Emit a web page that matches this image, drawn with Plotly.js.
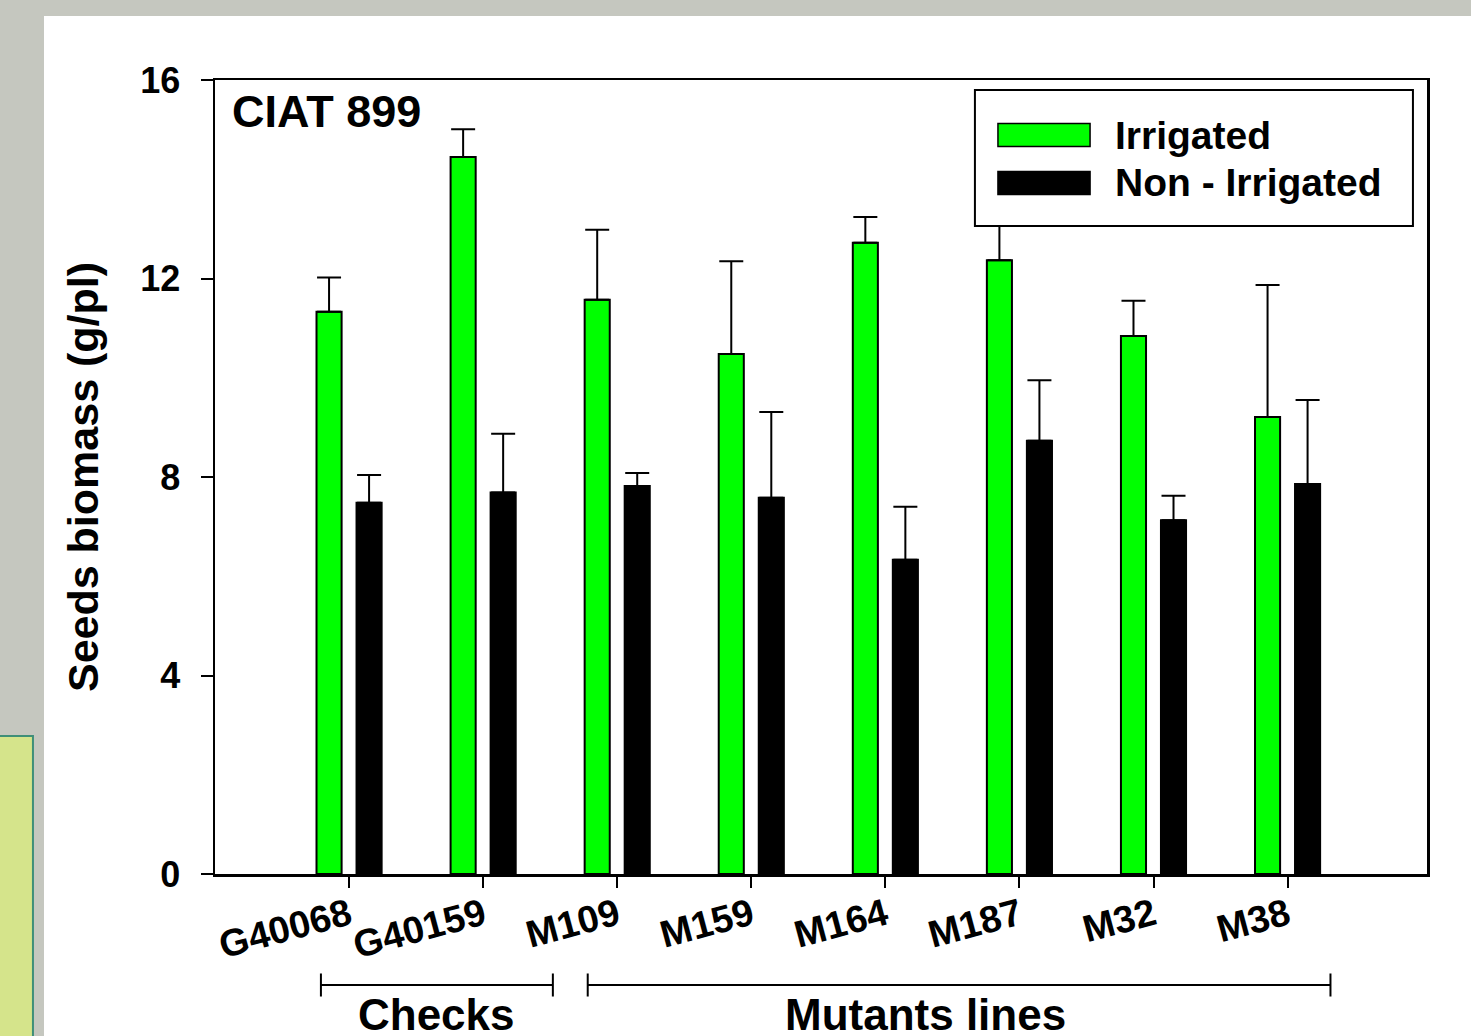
<!DOCTYPE html>
<html>
<head>
<meta charset="utf-8">
<script src="https://cdn.plot.ly/plotly-3.0.1.min.js"></script>
<style>
html,body{margin:0;padding:0;background:#c5c7bf;}
#chart{width:1471px;height:1036px;}
</style>
</head>
<body>
<div id="chart"></div>
<script>
// ---- data ----
const categories = ["G40068","G40159","M109","M159","M164","M187","M32","M38"];
const seriesNames = ["Irrigated","Non - Irrigated"];
const irrigated = [11.33, 14.45, 11.57, 10.48, 12.72, 12.37, 10.84, 9.21];
const irrigatedErr = [0.69, 0.56, 1.41, 1.87, 0.52, 0.78, 0.71, 2.66];
const nonIrrigated = [7.48, 7.69, 7.82, 7.58, 6.33, 8.73, 7.13, 7.86];
const nonIrrigatedErr = [0.56, 1.18, 0.26, 1.73, 1.07, 1.22, 0.49, 1.69];
const yTicks = [0, 4, 8, 12, 16];
const panelLabel = "CIAT 899";
const yTitle = "Seeds biomass (g/pl)";
const groups = [
  {label: "Checks", from: -0.21, to: 1.52, labelAt: 0.65},
  {label: "Mutants lines", from: 1.78, to: 7.32, labelAt: 4.30}
];

const FONT = "Liberation Sans, Arial, Helvetica, sans-serif";
const zeros = categories.map(() => 0);

const traces = [
  {
    type: "bar", name: seriesNames[0], x: categories.map((c,i)=>i), y: irrigated,
    marker: {color: "#00ff00", line: {color: "#000000", width: 2}},
    error_y: {type: "data", symmetric: false, array: irrigatedErr, arrayminus: zeros,
              color: "#000000", thickness: 2, width: 12},
    showlegend: false, hoverinfo: "skip"
  },
  {
    type: "bar", name: seriesNames[1], x: categories.map((c,i)=>i), y: nonIrrigated,
    marker: {color: "#000000", line: {color: "#000000", width: 2}},
    error_y: {type: "data", symmetric: false, array: nonIrrigatedErr, arrayminus: zeros,
              color: "#000000", thickness: 2, width: 12},
    showlegend: false, hoverinfo: "skip"
  }
];

const shapes = [];
const annotations = [];

// page panels (background decoration)
shapes.push({type:"rect", xref:"paper", yref:"paper", x0:-0.1411, x1:1.04, y0:-0.21, y1:1.0806,
  fillcolor:"#ffffff", line:{width:0}, layer:"below"});
shapes.push({type:"rect", xref:"paper", yref:"paper", x0:-0.18, x1:-0.1502, y0:-0.21, y1:0.1738,
  fillcolor:"#d5e48b", line:{color:"#3f8f78", width:2}, layer:"below"});

// group brackets
const by = -0.1398, bt = 0.0145;
groups.forEach(g => {
  shapes.push({type:"line", xref:"x", yref:"paper", x0:g.from, x1:g.to, y0:by, y1:by, line:{color:"#000", width:2}});
  shapes.push({type:"line", xref:"x", yref:"paper", x0:g.from, x1:g.from, y0:by-bt, y1:by+bt, line:{color:"#000", width:2}});
  shapes.push({type:"line", xref:"x", yref:"paper", x0:g.to, x1:g.to, y0:by-bt, y1:by+bt, line:{color:"#000", width:2}});
  annotations.push({xref:"x", yref:"paper", x:g.labelAt, y:-0.1436, yanchor:"top", xanchor:"center",
    text:g.label, showarrow:false, font:{family:FONT, size:44, color:"#000", weight:"bold"}});
});

// panel label
annotations.push({xref:"paper", yref:"paper", x:0.012, y:0.9597, xanchor:"left", yanchor:"middle",
  text:panelLabel, showarrow:false, font:{family:FONT, size:45, color:"#000", weight:"bold"}});

// custom legend
shapes.push({type:"rect", xref:"paper", yref:"paper", x0:0.627, x1:0.9884, y0:0.8161, y1:0.9874,
  fillcolor:"#ffffff", line:{color:"#000", width:2}, layer:"above"});
const legColors = ["#00ff00", "#000000"];
const legY = [0.9307, 0.8703];
seriesNames.forEach((n,i) => {
  shapes.push({type:"rect", xref:"paper", yref:"paper", x0:0.646, x1:0.722, y0:legY[i]-0.0145, y1:legY[i]+0.0145,
    fillcolor:legColors[i], line:{color:"#000", width:1.5}, layer:"above"});
  annotations.push({xref:"paper", yref:"paper", x:0.741, y:legY[i], xanchor:"left", yanchor:"middle",
    text:n, showarrow:false, font:{family:FONT, size:39, color:"#000", weight:"bold"}});
});

const layout = {
  width:1471, height:1036,
  margin:{l:215, r:44, t:80, b:162, pad:0},
  paper_bgcolor:"#c5c7bf",
  plot_bgcolor:"#ffffff",
  barmode:"group", bargap:0.403, bargroupgap:0.373,
  showlegend:false,
  font:{family:FONT, color:"#000"},
  xaxis:{
    range:[-1, 8.04], tickmode:"array", tickvals:categories.map((c,i)=>i), ticktext:categories,
    tickangle:-15, ticks:"outside", ticklen:11, tickwidth:2, tickcolor:"#000",
    showline:true, linecolor:"#000", linewidth:2.5, mirror:true, showgrid:false, zeroline:false,
    tickfont:{family:FONT, size:38, color:"#000", weight:"bold"}, ticklabelstandoff:-9, automargin:false
  },
  yaxis:{
    range:[0,16], tickmode:"array", tickvals:yTicks, ticks:"outside", ticklen:12, tickwidth:2, tickcolor:"#000",
    showline:true, linecolor:"#000", linewidth:2.5, mirror:true, showgrid:false, zeroline:false,
    tickfont:{family:FONT, size:36, color:"#000", weight:"bold"}, ticklabelstandoff:13,
    title:{text:yTitle, font:{family:FONT, size:43, color:"#000", weight:"bold"}, standoff:28},
    automargin:false
  },
  shapes:shapes, annotations:annotations
};

Plotly.newPlot("chart", traces, layout, {displayModeBar:false, staticPlot:true});
</script>
</body>
</html>
